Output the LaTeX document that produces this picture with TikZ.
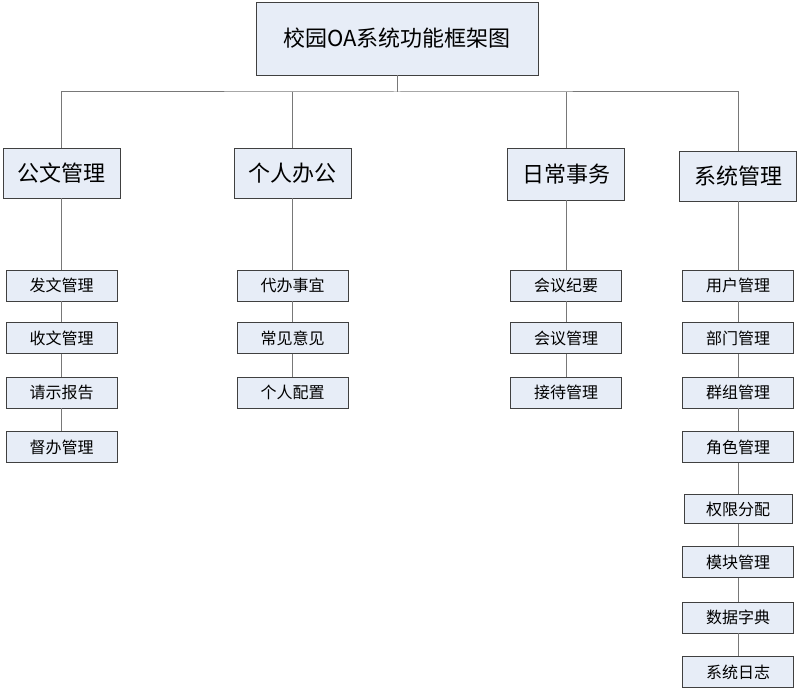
\documentclass[tikz,border=0pt]{standalone}
\usepackage{fontspec}
\newfontfamily\cjk{Noto Sans CJK SC}
\definecolor{boxfill}{RGB}{231,237,247}
\definecolor{boxline}{RGB}{64,64,64}
\definecolor{wirecol}{RGB}{120,120,120}
\begin{document}
\begin{tikzpicture}[x=1pt,y=-1pt,
  topbox/.style={draw=boxline,fill=boxfill,minimum width=282pt,minimum height=73pt,font=\cjk\fontsize{22}{26}\selectfont},
  groupbox/.style={draw=boxline,fill=boxfill,minimum width=117pt,minimum height=50pt,font=\cjk\fontsize{22}{26}\selectfont},
  itembox/.style={draw=boxline,fill=boxfill,minimum width=111pt,minimum height=31pt,font=\cjk\fontsize{16}{19}\selectfont},
  wire/.style={draw=wirecol,line width=1pt}]
  \useasboundingbox (0,0) rectangle (800,690);
  \node[topbox] (root) at (397,38.5) {校园OA系统功能框架图};
  \node[groupbox] (gw) at (61.5,173) {公文管理};
  \node[groupbox] (gr) at (292.5,173) {个人办公};
  \node[groupbox,minimum height=52pt] (rc) at (566,174) {日常事务};
  \node[groupbox] (xt) at (738,176) {系统管理};
  \coordinate (bus) at (397,92);
  \draw[wire] (root) -- (bus);
  \draw[wire] (gw) |- (bus) -| (xt);
  \draw[wire] (gr) -- (gr |- bus);
  \draw[wire] (rc) -- (rc |- bus);
  % second level
  \foreach \i/\yy/\tx in {1/285.5/发文管理,2/338/收文管理,3/392.5/请示报告,4/447/督办管理}
    \node[itembox] (gw\i) at (61.5,\yy) {\tx};
  \foreach \i/\yy/\tx in {1/285.5/代办事宜,2/338/常见意见,3/392.5/个人配置}
    \node[itembox] (gr\i) at (292.5,\yy) {\tx};
  \foreach \i/\yy/\tx in {1/285.5/会议纪要,2/338/会议管理,3/392.5/接待管理}
    \node[itembox] (rc\i) at (566,\yy) {\tx};
  \foreach \i/\yy/\tx in {1/285.5/用户管理,2/338/部门管理,3/392.5/群组管理,4/447/角色管理,
      6/562/模块管理,7/617.5/数据字典,8/672/系统日志}
    \node[itembox] (xt\i) at (738,\yy) {\tx};
  \node[itembox,minimum width=108pt,minimum height=29pt] (xt5) at (738,509) {权限分配};
  \draw[wire] (gw) -- (gw1) -- (gw2) -- (gw3) -- (gw4);
  \draw[wire] (gr) -- (gr1) -- (gr2) -- (gr3);
  \draw[wire] (rc) -- (rc1) -- (rc2) -- (rc3);
  \draw[wire] (xt) -- (xt1) -- (xt2) -- (xt3) -- (xt4) -- (xt5) -- (xt6) -- (xt7) -- (xt8);
\end{tikzpicture}
\end{document}
